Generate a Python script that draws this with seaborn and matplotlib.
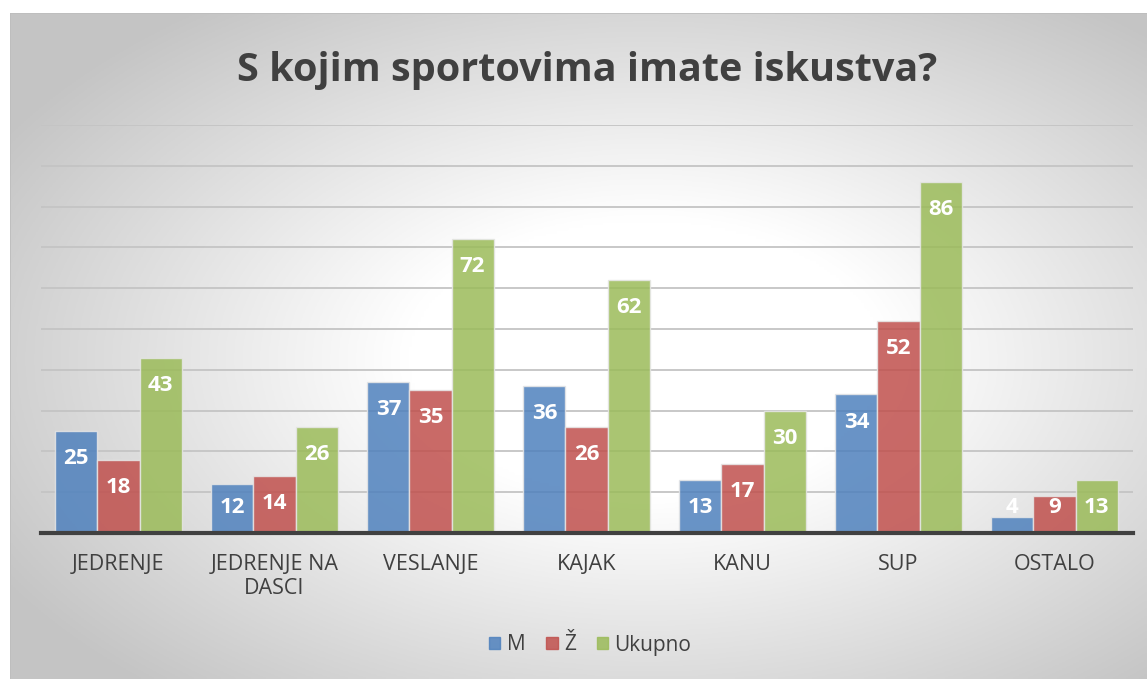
#!/usr/bin/env python3
"""Grupirani stupčasti graf: S kojim sportovima imate iskustva?"""

import matplotlib

matplotlib.use("Agg")
import matplotlib.pyplot as plt
import numpy as np
import pandas as pd
import seaborn as sns

# ---------------------------------------------------------------------------
# Podaci
# ---------------------------------------------------------------------------

categories = ["JEDRENJE", "JEDRENJE NA\nDASCI", "VESLANJE", "KAJAK", "KANU", "SUP", "OSTALO"]
series = ["M", "Ž", "Ukupno"]
m_values = [25, 12, 37, 36, 13, 34, 4]
z_values = [18, 14, 35, 26, 17, 52, 9]
ukupno_values = [43, 26, 72, 62, 30, 86, 13]

colors = {"M": "#4f81bd", "Ž": "#c0504d", "Ukupno": "#9bbb59"}

df = pd.DataFrame({
    "kategorija": categories * 3,
    "serija": ["M"] * 7 + ["Ž"] * 7 + ["Ukupno"] * 7,
    "broj": m_values + z_values + ukupno_values,
})

# ---------------------------------------------------------------------------
# Crtanje
# ---------------------------------------------------------------------------

sns.set_theme(style="white")
plt.rcParams["font.family"] = ["Open Sans", "DejaVu Sans"]

W, H = 1147, 679
fig = plt.figure(figsize=(W / 100, H / 100), dpi=100)
fig.patch.set_facecolor("white")

# pozadina: radijalni gradijent (bijelo u sredini, sivo prema rubovima)
bg = fig.add_axes([10 / W, 0, (W - 10) / W, (H - 13) / H])
xs = np.linspace(0, 1, 400)
ys = np.linspace(0, 1, 240)
gx, gy = np.meshgrid(xs, ys)
r = np.sqrt(((gx - 0.56) / 0.5) ** 2 + ((gy - 0.52) / 0.5) ** 2)
shade = 1 - 0.23 * np.clip((r - 0.42) / 0.9, 0, 1)
bg.imshow(np.dstack([shade] * 3), extent=[0, 1, 0, 1], aspect="auto", origin="upper")
bg.set_axis_off()
bg.plot([0, 1], [1, 1], color="#bdbdbd", lw=1.2, transform=bg.transAxes)
bg.plot([0, 0], [0, 1], color="#bdbdbd", lw=1.2, transform=bg.transAxes)

ax = fig.add_axes([40.5 / W, 146 / H, 1092 / W, 408 / H])
ax.patch.set_alpha(0)

sns.barplot(
    data=df, x="kategorija", y="broj", hue="serija", order=categories,
    hue_order=series, palette=colors, width=0.81, saturation=1,
    edgecolor="#e6e6e6", linewidth=1.0, alpha=0.85, ax=ax, legend=False, zorder=3,
)

ax.set_ylim(0, 100)
ax.set_yticks(np.arange(10, 101, 10))
ax.yaxis.grid(True, color="#c4c4c4", lw=1.3, zorder=0)
ax.set_axisbelow(True)
ax.tick_params(axis="y", left=False, labelleft=False)
ax.tick_params(axis="x", bottom=False, pad=9, labelsize=15.5, labelcolor="#404040")
ax.set_xlabel("")
ax.set_ylabel("")
for s in ("top", "right", "left"):
    ax.spines[s].set_visible(False)
ax.spines["bottom"].set_color("#404040")
ax.spines["bottom"].set_linewidth(3)
ax.spines["bottom"].set_zorder(5)

# oznake vrijednosti
for container in ax.containers:
    for bar in container:
        v = bar.get_height()
        y = max(v - 6.8, 6.2)
        ax.text(bar.get_x() + bar.get_width() / 2, y, f"{int(v)}",
                ha="center", va="center", color="white", fontsize=16,
                fontweight="bold", zorder=6)

fig.text(587 / W, 1 - 70 / H, "S kojim sportovima imate iskustva?",
         ha="center", va="center", fontsize=28.5, fontweight="bold", color="#404040")

handles = [plt.Rectangle((0, 0), 1, 1, color=colors[s], alpha=0.85) for s in series]
fig.legend(handles, series, loc="center", bbox_to_anchor=(590 / W, 1 - 645 / H),
           ncol=3, frameon=False, fontsize=15, handlelength=0.55, handleheight=0.55,
           handletextpad=0.3, columnspacing=1.0, labelcolor="#404040")

fig.savefig("out.png", dpi=100)
